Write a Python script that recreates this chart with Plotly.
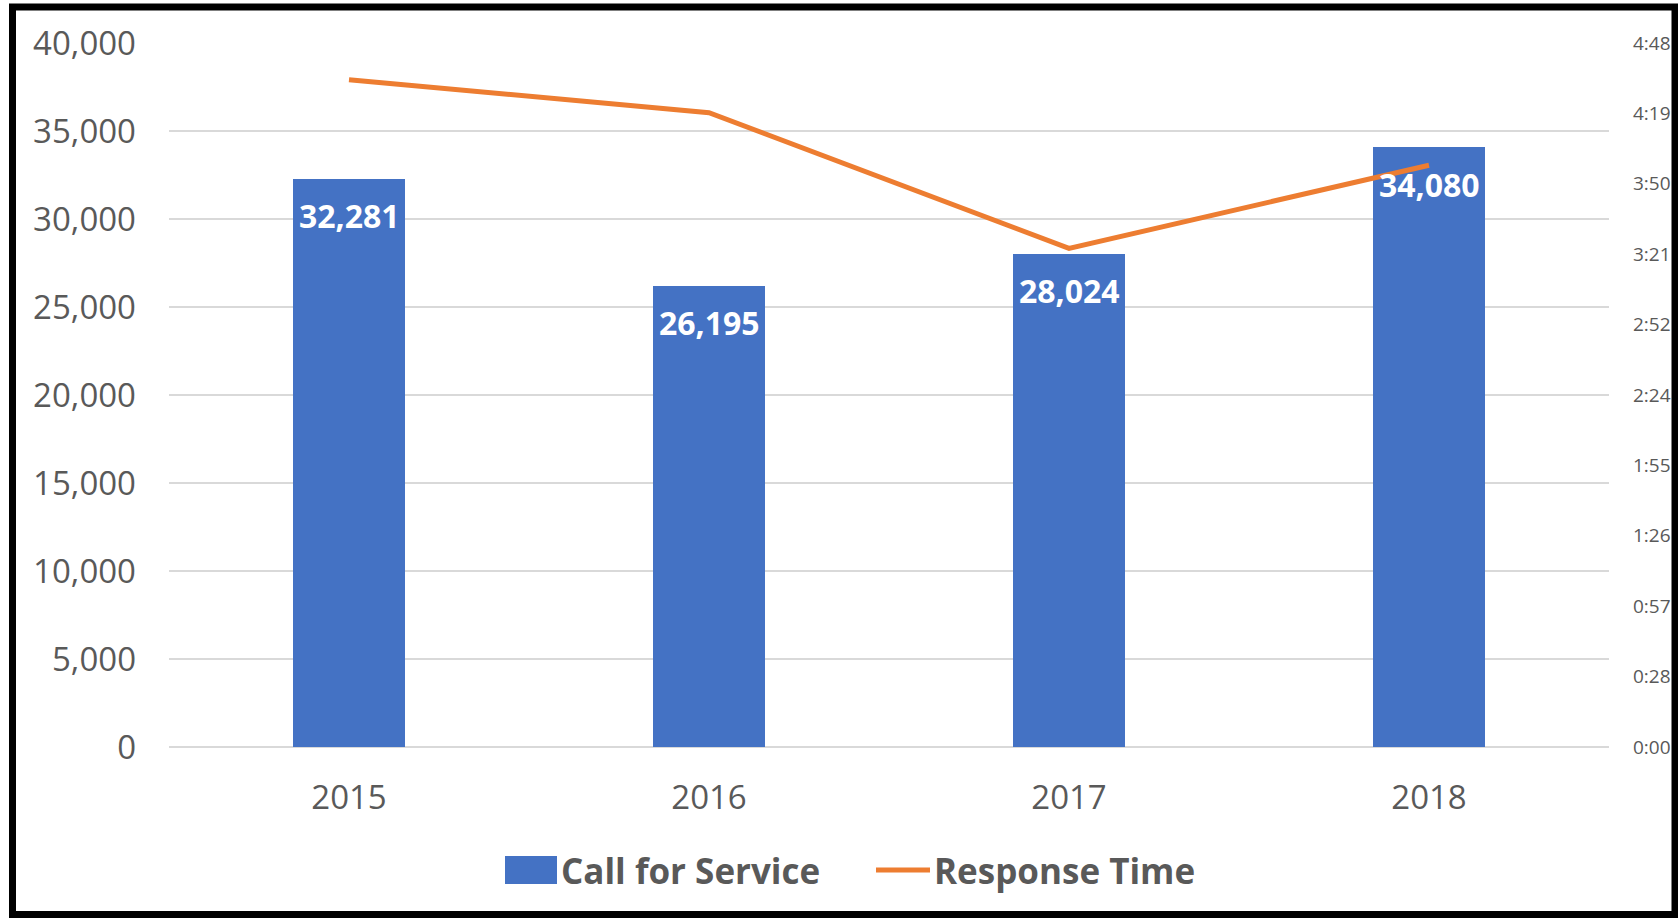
import plotly.graph_objects as go

# ---- data ----
years = ["2015", "2016", "2017", "2018"]
calls_for_service = [32281, 26195, 28024, 34080]
response_time_sec = [273, 259.5, 204, 238]  # seconds

left_tickvals = [0, 5000, 10000, 15000, 20000, 25000, 30000, 35000, 40000]
right_tickvals = [0, 28.8, 57.6, 86.4, 115.2, 144, 172.8, 201.6, 230.4, 259.2, 288]
right_ticktext = ["0:00", "0:28", "0:57", "1:26", "1:55", "2:24", "2:52", "3:21", "3:50", "4:19", "4:48"]

W, H = 1678, 918
ML, MR, MT, MB = 169, 69, 43, 171
PW, PH = W - ML - MR, H - MT - MB

def px(x):
    return (x - ML) / PW

def py(y):
    return (H - MB - y) / PH

FONT = "Open Sans"
GREY = "#595959"
BLUE = "#4472C4"
ORANGE = "#ED7D31"

fig = go.Figure()
fig.add_trace(go.Bar(
    x=years, y=calls_for_service, name="Call for Service",
    marker=dict(color=BLUE, line=dict(width=0)),
    width=0.31,
    yaxis="y",
))
fig.add_trace(go.Scatter(
    x=years, y=response_time_sec, name="Response Time",
    mode="lines", line=dict(color=ORANGE, width=5),
    yaxis="y2",
))

shapes = [
    # legend symbols
    dict(type="rect", xref="paper", yref="paper",
         x0=px(505), x1=px(557), y0=py(884), y1=py(856),
         fillcolor=BLUE, line=dict(width=0)),
    dict(type="line", xref="paper", yref="paper",
         x0=px(876), x1=px(930), y0=py(870), y1=py(870),
         line=dict(color=ORANGE, width=5)),
    # outer frame
    dict(type="rect", xref="paper", yref="paper",
         x0=px(12.5), x1=px(1675), y0=py(914.5), y1=py(7),
         line=dict(color="black", width=7), fillcolor="rgba(0,0,0,0)"),
]
annotations = [
    dict(text="Call for Service", xref="paper", yref="paper", x=px(559), y=py(870),
         xanchor="left", yanchor="middle", showarrow=False,
         font=dict(family=FONT, size=35, color=GREY, weight="bold")),
    dict(text="Response Time", xref="paper", yref="paper", x=px(932), y=py(870),
         xanchor="left", yanchor="middle", showarrow=False,
         font=dict(family=FONT, size=35, color=GREY, weight="bold")),
]
# data labels (inside end of bars); x given as category index
for i, v in enumerate(calls_for_service):
    annotations.append(dict(
        text=f"{v:,}", x=i, y=v, xref="x", yref="y",
        xanchor="center", yanchor="middle", yshift=-37, showarrow=False,
        font=dict(family=FONT, size=32, color="white", weight="bold"),
    ))

fig.update_layout(
    width=W, height=H,
    margin=dict(l=ML, r=MR, t=MT, b=MB, pad=0, autoexpand=False),
    paper_bgcolor="white", plot_bgcolor="white",
    showlegend=False,
    bargap=0,
    xaxis=dict(
        type="category", range=[-0.5, len(years) - 0.5], autorange=False,
        showgrid=False, showline=False, ticks="", automargin=False,
        tickfont=dict(family=FONT, size=33, color=GREY),
        ticklabelstandoff=28,
    ),
    yaxis=dict(
        range=[0, 40000], tickvals=left_tickvals, tickformat=",d",
        showgrid=True, gridcolor="#D9D9D9", gridwidth=1.5,
        zeroline=True, zerolinecolor="#D9D9D9", zerolinewidth=2,
        showline=False, ticks="", automargin=False,
        tickfont=dict(family=FONT, size=33, color=GREY),
        ticklabelstandoff=32,
    ),
    yaxis2=dict(
        overlaying="y", side="right", range=[0, 288],
        tickvals=right_tickvals, ticktext=right_ticktext,
        showgrid=False, zeroline=False, showline=False, ticks="", automargin=False,
        tickfont=dict(family=FONT, size=19, color=GREY),
        ticklabelstandoff=23,
    ),
    shapes=shapes,
    annotations=annotations,
)

fig.write_html(
    "out.html",
    config={"displayModeBar": False},
    post_script="document.body.style.margin='0';document.body.style.overflow='hidden';",
)
